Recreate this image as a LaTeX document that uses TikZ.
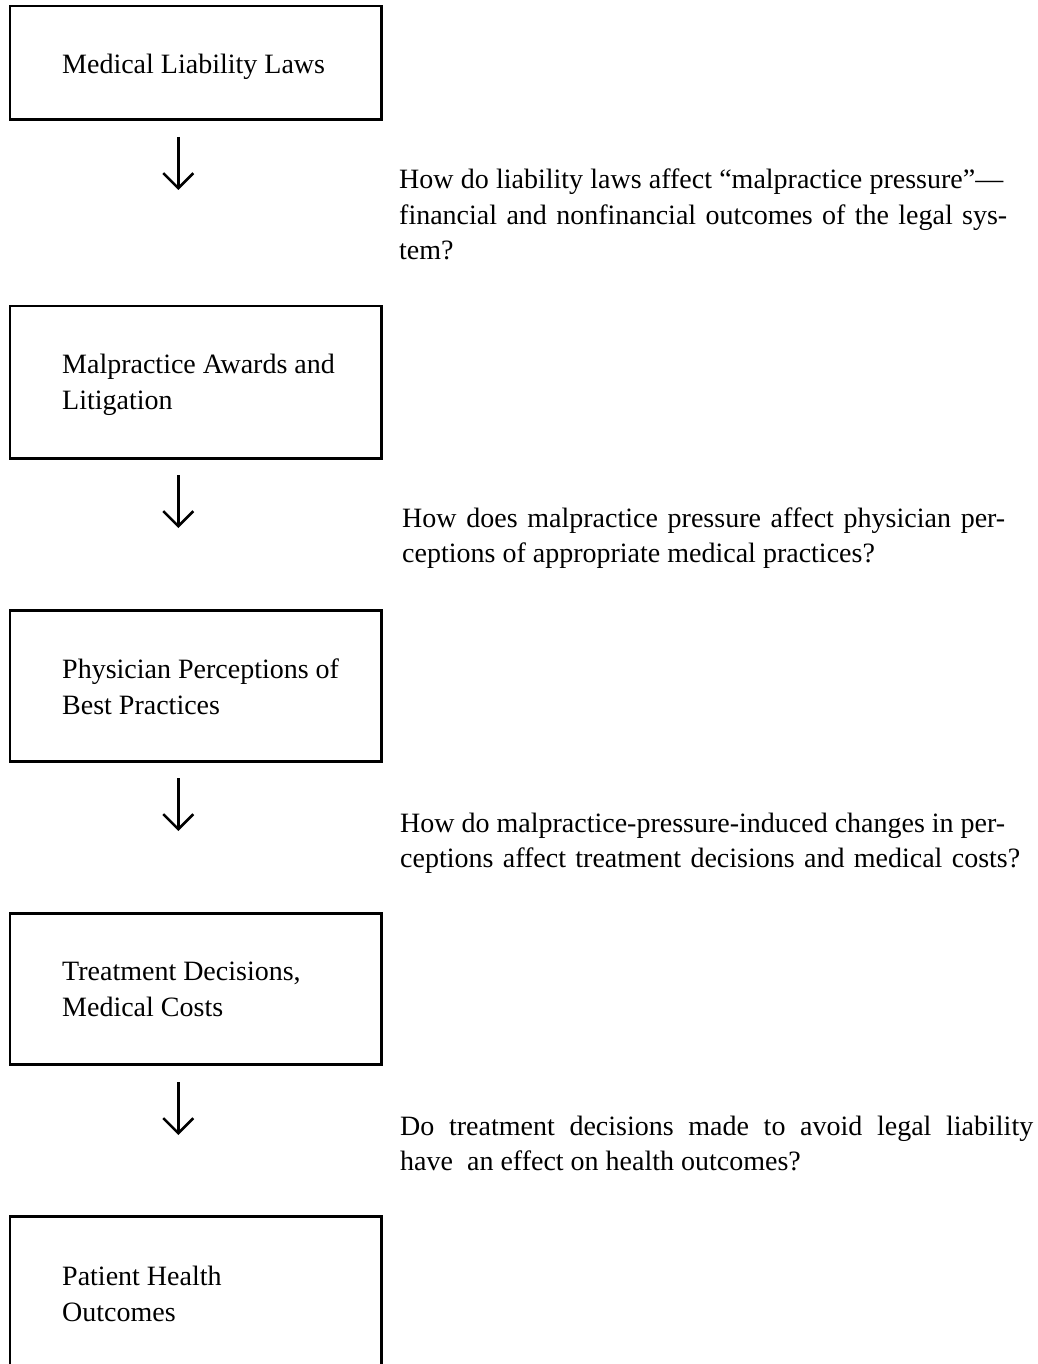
\documentclass[tikz,border=0pt]{standalone}
\usepackage{fontspec}
\setmainfont{Liberation Serif}
\usetikzlibrary{arrows.meta}
\newcommand{\normsp}{\spaceskip=0pt\xspaceskip=0pt\relax}
\newcommand{\jline}[2][607pt]{\makebox[#1][s]{\normsp #2}}
\begin{document}
\begin{tikzpicture}[x=1pt,y=-1pt,
  box/.style={draw, line width=2.6pt, minimum width=371.7pt, inner sep=0pt},
  boxtext/.style={anchor=base west, inner sep=0pt, text width=320pt, align=left,
    font=\fontsize{28}{36.5}\selectfont},
  question/.style={anchor=base west, inner sep=0pt, text width=640pt, align=left,
    font=\fontsize{28}{35.5}\selectfont},
  flow/.style={line width=2.6pt, -{Straight Barb[length=15pt,width=30pt,line width=2.6pt]}}]
\useasboundingbox (0,0) rectangle (1037,1364);
\clip (0,0) rectangle (1037,1364);

% boxes
\node[box, minimum height=113.3pt] (b1) at (195.85,62.65) {};
\node[box, minimum height=152.3pt] (b2) at (195.85,382.15) {};
\node[box, minimum height=151pt]   (b3) at (195.85,686.2) {};
\node[box, minimum height=151pt]   (b4) at (195.85,989) {};
\node[box, minimum height=151.3pt] (b5) at (195.85,1292.35) {};

% box labels
\node[boxtext] (t1) at (62,73.3) {\normsp Medical Liability Laws};
\node[boxtext] (t2) at (62,373) {\normsp Malpractice Awards and\\Litigation};
\node[boxtext] (t3) at (62,678) {\normsp Physician Perceptions of\\Best Practices};
\node[boxtext] (t4) at (62,980) {\normsp Treatment Decisions,\\Medical Costs};
\node[boxtext] (t5) at (62,1285) {\normsp Patient Health\\Outcomes};

% arrows
\coordinate (a1s) at (178.3,137);  \coordinate (a1e) at (178.3,190);
\coordinate (a2s) at (178.3,475);  \coordinate (a2e) at (178.3,528);
\coordinate (a3s) at (178.3,778);  \coordinate (a3e) at (178.3,831);
\coordinate (a4s) at (178.3,1082); \coordinate (a4e) at (178.3,1135);
\draw[flow] (a1s) -- (a1e);
\draw[flow] (a2s) -- (a2e);
\draw[flow] (a3s) -- (a3e);
\draw[flow] (a4s) -- (a4e);

% questions
\node[question] (q1) at (399,189) {\normsp\jline[604pt]{How do liability laws affect “malpractice pressure”—}\\
  \jline[608pt]{financial and nonfinancial outcomes of the legal sys-}\\
  tem?};
\node[question] (q2) at (402,527) {\normsp\jline[603pt]{How does malpractice pressure affect physician per-}\\
  ceptions of appropriate medical practices?};
\node[question] (q3) at (400,832) {\normsp\jline[605pt]{How do malpractice-pressure-induced changes in per-}\\
  \jline[620pt]{ceptions affect treatment decisions and medical costs?}};
\node[question] (q4) at (400,1135) {\normsp\jline[633pt]{Do treatment decisions made to avoid legal liability}\\
  have\ \ an effect on health outcomes?};
\end{tikzpicture}
\end{document}
